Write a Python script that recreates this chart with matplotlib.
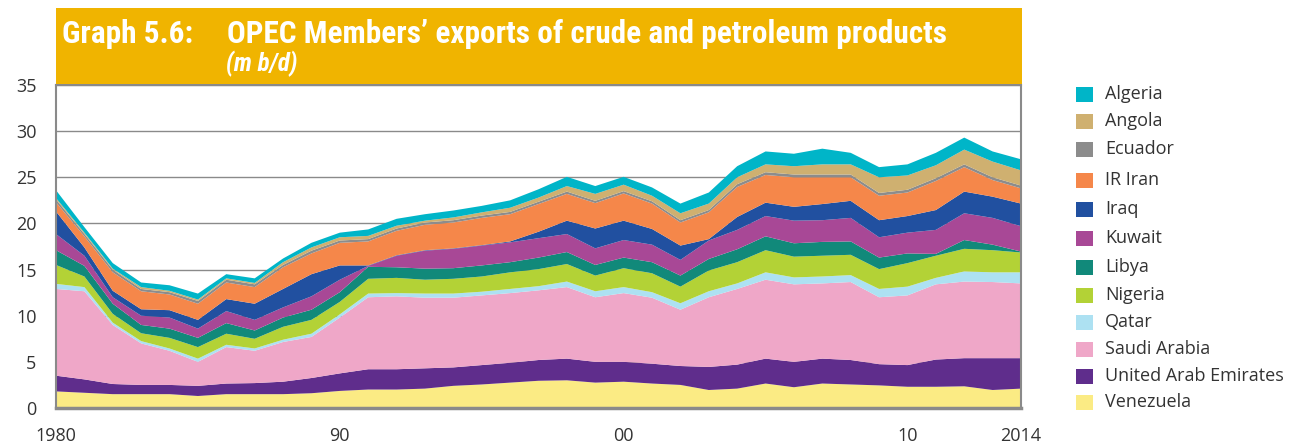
import numpy as np
import matplotlib
matplotlib.use("Agg")
import matplotlib.pyplot as plt
from matplotlib.patches import Rectangle
from matplotlib import font_manager

# Data (m b/d)
years = list(range(1980, 2015))
countries = ["Venezuela", "United Arab Emirates", "Saudi Arabia", "Qatar", "Nigeria",
             "Libya", "Kuwait", "Iraq", "IR Iran", "Ecuador", "Angola", "Algeria"]

venezuela = [1.8, 1.65, 1.5, 1.5, 1.5, 1.3, 1.5, 1.5, 1.5, 1.6, 1.85, 2.0, 2.0, 2.1, 2.4, 2.55, 2.75, 2.95,
             3.0, 2.75, 2.85, 2.65, 2.5, 1.95, 2.1, 2.65, 2.25, 2.65, 2.55, 2.45, 2.3, 2.3, 2.35, 1.95, 2.1]
uae = [1.7, 1.45, 1.1, 1.0, 1.0, 1.1, 1.15, 1.2, 1.35, 1.65, 1.9, 2.2, 2.2, 2.2, 2.0, 2.1, 2.15, 2.25,
       2.35, 2.25, 2.15, 2.15, 2.05, 2.5, 2.6, 2.7, 2.75, 2.7, 2.65, 2.3, 2.35, 2.95, 3.05, 3.45, 3.3]
saudi = [9.4, 9.55, 6.4, 4.5, 3.7, 2.6, 3.95, 3.5, 4.3, 4.45, 6.05, 7.8, 7.9, 7.65, 7.55, 7.55, 7.55, 7.55,
         7.75, 7.0, 7.45, 7.15, 6.1, 7.55, 8.2, 8.55, 8.4, 8.15, 8.45, 7.25, 7.55, 8.15, 8.3, 8.25, 8.1]
qatar = [0.55, 0.45, 0.25, 0.25, 0.25, 0.35, 0.25, 0.25, 0.25, 0.35, 0.35, 0.4, 0.35, 0.45, 0.45, 0.4, 0.45, 0.45,
         0.6, 0.65, 0.65, 0.6, 0.7, 0.65, 0.6, 0.8, 0.75, 0.75, 0.75, 0.9, 0.95, 0.7, 1.1, 1.05, 1.2]
nigeria = [2.05, 1.15, 0.95, 0.85, 1.15, 1.25, 1.2, 1.05, 1.4, 1.5, 1.35, 1.6, 1.65, 1.5, 1.6, 1.65, 1.8, 1.85,
           1.9, 1.7, 2.05, 2.05, 1.8, 2.25, 2.3, 2.4, 2.25, 2.25, 2.2, 2.15, 2.55, 2.4, 2.45, 2.4, 2.15]
libya = [1.6, 1.15, 1.1, 0.9, 1.0, 1.0, 1.15, 0.9, 1.0, 1.1, 1.05, 1.3, 1.15, 1.2, 1.15, 1.2, 1.1, 1.25,
         1.3, 1.15, 1.15, 1.2, 1.2, 1.25, 1.4, 1.5, 1.45, 1.5, 1.45, 1.25, 1.05, 0.2, 0.95, 0.6, 0.1]
kuwait = [1.75, 1.1, 0.7, 1.0, 1.2, 1.0, 1.3, 1.15, 1.1, 1.45, 1.35, 0.1, 1.25, 1.95, 2.1, 2.15, 2.15, 2.1,
          1.95, 1.8, 1.9, 1.9, 1.7, 2.0, 2.1, 2.2, 2.45, 2.35, 2.55, 2.2, 2.25, 2.6, 2.9, 2.9, 2.75]
iraq = [2.45, 0.9, 0.7, 0.7, 0.8, 0.95, 1.3, 1.75, 2.0, 2.4, 1.55, 0.05, 0.05, 0.05, 0.05, 0.05, 0.1, 0.7,
        1.45, 2.15, 2.1, 1.7, 1.55, 0.15, 1.4, 1.45, 1.5, 1.75, 1.85, 1.85, 1.8, 2.15, 2.35, 2.3, 2.45]
iran = [1.0, 1.2, 2.0, 1.95, 1.7, 1.75, 1.8, 1.8, 2.35, 2.25, 2.45, 2.6, 2.65, 2.75, 2.8, 2.95, 2.95, 3.0,
        2.9, 2.75, 2.95, 2.75, 2.5, 2.9, 3.25, 3.0, 3.2, 2.9, 2.55, 2.65, 2.55, 3.15, 2.65, 1.8, 1.65]
ecuador = [0.3, 0.25, 0.3, 0.25, 0.25, 0.3, 0.3, 0.3, 0.25, 0.3, 0.25, 0.25, 0.25, 0.25, 0.25, 0.25, 0.25, 0.25,
           0.25, 0.25, 0.25, 0.25, 0.25, 0.25, 0.3, 0.3, 0.3, 0.3, 0.3, 0.3, 0.3, 0.3, 0.3, 0.3, 0.3]
angola = [0.15, 0.15, 0.1, 0.2, 0.15, 0.15, 0.15, 0.15, 0.3, 0.35, 0.35, 0.35, 0.3, 0.2, 0.3, 0.35, 0.45, 0.45,
          0.6, 0.75, 0.7, 0.6, 0.75, 0.7, 0.75, 0.85, 0.9, 1.1, 1.1, 1.7, 1.55, 1.4, 1.6, 1.7, 1.65]
algeria = [0.85, 0.6, 0.6, 0.5, 0.6, 0.65, 0.45, 0.5, 0.4, 0.5, 0.5, 0.7, 0.75, 0.7, 0.75, 0.7, 0.8, 0.9,
           1.0, 0.85, 0.85, 0.9, 1.05, 1.2, 1.2, 1.4, 1.35, 1.7, 1.25, 1.1, 1.2, 1.35, 1.3, 1.1, 1.2]

series = [venezuela, uae, saudi, qatar, nigeria, libya, kuwait, iraq, iran, ecuador, angola, algeria]
colors = ["#FBEB84", "#5F2D8C", "#EFA7C8", "#ADE1F2", "#B3D236", "#11897A",
          "#A84896", "#2150A0", "#F5874A", "#8C8C8C", "#CFB070", "#00B5C8"]

xtick_pos = [1980, 1990, 2000, 2010, 2014]
xtick_lab = ["1980", "90", "00", "10", "2014"]

plt.rcParams["font.family"] = ["Open Sans", "DejaVu Sans"]
txt = "#333333"

# narrow bold face for the banner if one is around
installed = {f.name for f in font_manager.fontManager.ttflist}
narrow = None
for cand in ["Liberation Sans Narrow", "Roboto Condensed", "Open Sans Condensed", "Noto Sans Condensed"]:
    if cand in installed:
        narrow = cand
        break
if narrow:
    tfont, tsize, ssize = [narrow, "DejaVu Sans"], 22.5, 18
else:
    tfont, tsize, ssize = ["Liberation Sans", "DejaVu Sans"], 17, 14

fig = plt.figure(figsize=(13.08, 4.47), dpi=100)
ax = fig.add_axes([56 / 1308, 1 - 408 / 447, (1021 - 56) / 1308, (408 - 85) / 447])

ax.stackplot(years, *series, colors=colors, linewidth=0, zorder=2)

ax.set_xlim(1980, 2014)
ax.set_ylim(0, 35)
ax.set_yticks(range(0, 36, 5))
ax.set_xticks(xtick_pos)
ax.set_xticklabels(xtick_lab)
ax.yaxis.grid(True, color="#8a8a8a", linewidth=1.0, zorder=0)
ax.set_axisbelow(True)
ax.tick_params(length=0, labelsize=13, colors=txt)
ax.tick_params(axis="x", pad=14)
ax.tick_params(axis="y", pad=14)
for s in ax.spines.values():
    s.set_color("#8a8a8a")
    s.set_linewidth(1.5)
ax.spines["bottom"].set_linewidth(2.5)

# title banner
fig.patches.append(Rectangle((56 / 1308, 1 - 84 / 447), (1022 - 56) / 1308, 76 / 447,
                             transform=fig.transFigure, facecolor="#F0B400", edgecolor="none"))
fig.text(62 / 1308, 1 - 34 / 447, "Graph 5.6:", color="white", fontsize=tsize, fontweight="bold",
         family=tfont, va="center", ha="left")
fig.text(227 / 1308, 1 - 34 / 447, "OPEC Members\u2019 exports of crude and petroleum products",
         color="white", fontsize=tsize, fontweight="bold", family=tfont, va="center", ha="left")
fig.text(226 / 1308, 1 - 64 / 447, "(m b/d)", color="white", fontsize=ssize, fontweight="bold",
         style="italic", family=tfont, va="center", ha="left")

# legend (top to bottom: Algeria ... Venezuela)
leg_y = [94, 121, 149, 180, 209, 238, 267, 295, 322, 349, 376, 402]
for name, col, yy in zip(countries[::-1], colors[::-1], leg_y):
    fig.patches.append(Rectangle((1076 / 1308, 1 - (yy + 8) / 447), 17 / 1308, 15 / 447,
                                 transform=fig.transFigure, facecolor=col, edgecolor="none"))
    fig.text(1105 / 1308, 1 - yy / 447, name, fontsize=13, color=txt, va="center", ha="left")

fig.savefig("out.png", dpi=100)
